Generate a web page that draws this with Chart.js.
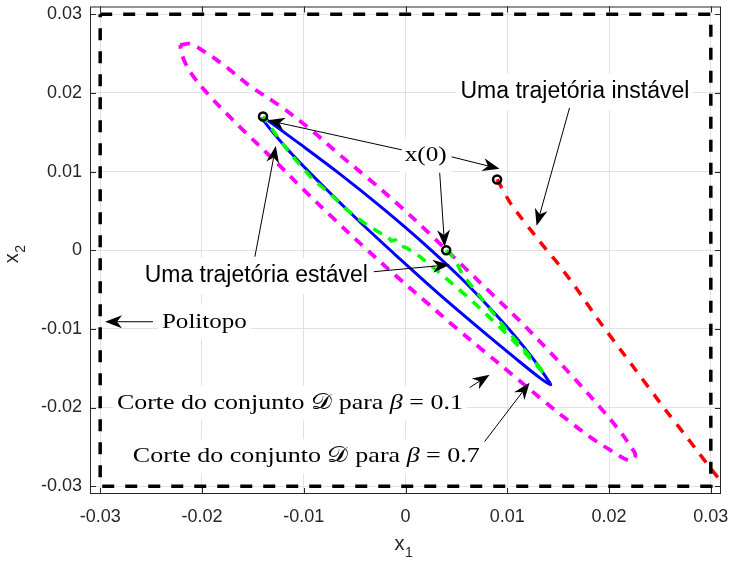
<!DOCTYPE html>
<html>
<head>
<meta charset="utf-8">
<script src="https://cdn.jsdelivr.net/npm/chart.js@4.4.1/dist/chart.umd.min.js"></script>
<style>
  html, body { margin: 0; padding: 0; background: #fff; }
</style>
</head>
<body>
<canvas id="chart" width="730" height="563"></canvas>
<script>
// axis range and ticks
const axisMin = -0.031;
const axisMax = 0.031;
const tickStep = 0.01;

// polytope (box)
const polyX = [-0.03, 0.03, 0.03, -0.03, -0.03];
const polyY = [0.03, 0.03, -0.03, -0.03, 0.03];

// cut of set D for beta = 0.1 (magenta)
const beta01X = [-0.02216, -0.02118, -0.01971, -0.01775, -0.01529, -0.01235, -0.00940, -0.00646, -0.00351, -0.00057,
                 0.00237, 0.00532, 0.00826, 0.01121, 0.01415, 0.01660, 0.01906, 0.02102, 0.02220, 0.02259,
                 0.02200, 0.02004, 0.01808, 0.01612, 0.01366, 0.01072, 0.00777, 0.00483, 0.00188, -0.00106,
                 -0.00400, -0.00695, -0.00990, -0.01284, -0.01578, -0.01775, -0.01951, -0.02088, -0.02177, -0.02216];
const beta01Y = [0.02611, 0.02624, 0.02522, 0.02344, 0.02090, 0.01836, 0.01544, 0.01213, 0.00896, 0.00565,
                 0.00210, -0.00159, -0.00527, -0.00896, -0.01290, -0.01633, -0.01989, -0.02294, -0.02510, -0.02611,
                 -0.02675, -0.02535, -0.02370, -0.02179, -0.01925, -0.01607, -0.01290, -0.00972, -0.00642, -0.00311,
                 0.00032, 0.00388, 0.00756, 0.01137, 0.01506, 0.01760, 0.02001, 0.02217, 0.02421, 0.02611];

// cut of set D for beta = 0.7 (blue)
const beta07X = [-0.01401, -0.01038, -0.00646, -0.00253, 0.00139, 0.00532, 0.00826, 0.01072, 0.01268, 0.01396,
                 0.01425, 0.01317, 0.01072, 0.00728, 0.00336, -0.00057, -0.00450, -0.00842, -0.01137, -0.01401,
                 -0.01401];
const beta07Y = [0.01696, 0.01353, 0.00972, 0.00565, 0.00133, -0.00337, -0.00731, -0.01086, -0.01404, -0.01645,
                 -0.01709, -0.01620, -0.01366, -0.00997, -0.00565, -0.00108, 0.00362, 0.00858, 0.01252, 0.01658,
                 0.01696];

// stable trajectory (green)
const stableX = [0.0040, 0.0048, 0.0056, 0.0071, 0.0085, 0.0099, 0.0115, 0.0131, 0.0137, 0.0112,
                 0.0095, 0.0083, 0.0066, 0.0049, 0.0034, 0.0014, 0.0001, -0.0006, -0.0010, -0.0014,
                 -0.0019, -0.0025, -0.0042, -0.0058, -0.0074, -0.0091, -0.0114, -0.0130, -0.0140];
const stableY = [0.0000, -0.0010, -0.0031, -0.0055, -0.0078, -0.0101, -0.0124, -0.0148, -0.0158, -0.0123,
                 -0.0101, -0.0086, -0.0065, -0.0046, -0.0029, -0.0008, 0.0003, 0.0006, 0.0013, 0.0012,
                 0.0020, 0.0022, 0.0036, 0.0052, 0.0072, 0.0090, 0.0124, 0.0152, 0.0170];

// unstable trajectory (red)
const unstableX = [0.0090, 0.0104, 0.0132, 0.0151, 0.0171, 0.0188, 0.0215, 0.0256, 0.0273, 0.0286, 0.0299, 0.0310, 0.0323];
const unstableY = [0.0090, 0.0058, 0.0011, -0.0019, -0.0054, -0.0086, -0.0133, -0.0204, -0.0232, -0.0254, -0.0276, -0.0294, -0.0314];

// initial conditions x(0)
const x0X = [-0.014, 0.004, 0.009];
const x0Y = [0.017, 0.000, 0.009];

const SANS = '"Liberation Sans", Arial, sans-serif';
const SERIF = '"Liberation Serif", "Times New Roman", serif';

// annotations, placed in data units
const notes = [
  { parts: [['Uma trajetória instável', 'sans']], x: 0.01665, y: 0.02014, w: 229, size: 23 },
  { parts: [['x(0)', 'serif']], x: 0.00198, y: 0.01213, w: 42, size: 22 },
  { parts: [['Uma trajetória estável', 'sans']], x: -0.01466, y: -0.00324, w: 223, size: 23 },
  { parts: [['Politopo', 'serif']], x: -0.01976, y: -0.00909, w: 85, size: 22 },
  { parts: [['Corte do conjunto ', 'serif'], ['𝒟', 'cal'], [' para ', 'serif'], ['β', 'ital'], [' = 0.1', 'serif']],
    x: -0.01136, y: -0.01942, w: 346, size: 22 },
  { parts: [['Corte do conjunto ', 'serif'], ['𝒟', 'cal'], [' para ', 'serif'], ['β', 'ital'], [' = 0.7', 'serif']],
    x: -0.00974, y: -0.02620, w: 347, size: 22 }
];

const arrowFromX = [0.01612, -0.00037, 0.00336, 0.00453, -0.01480, -0.00312, -0.02481, 0.00630, 0.00777];
const arrowFromY = [0.01811, 0.01277, 0.00985, 0.01188, -0.00083, -0.00273, -0.00909, -0.01747, -0.02433];
const arrowToX = [0.01288, -0.01353, 0.00385, 0.00924, -0.01274, 0.00434, -0.02952, 0.00826, 0.01219];
const arrowToY = [0.00311, 0.01652, 0.00044, 0.01036, 0.01327, -0.00184, -0.00909, -0.01582, -0.01684];

const pts = (xs, ys) => xs.map((x, i) => ({ x: x, y: ys[i] }));

const fontOf = (kind, size) => {
  if (kind === 'sans') return size + 'px ' + SANS;
  if (kind === 'ital') return 'italic ' + size + 'px ' + SERIF;
  if (kind === 'cal') return size + 'px "DejaVu Sans", ' + SERIF;
  return size + 'px ' + SERIF;
};

const tickFmt = (v) => {
  const r = Math.round(v * 100) / 100;
  return r === 0 ? '0' : String(r);
};

function drawArrow(ctx, x1, y1, x2, y2) {
  const dx = x2 - x1, dy = y2 - y1;
  const len = Math.hypot(dx, dy);
  const ux = dx / len, uy = dy / len;
  const nx = -uy, ny = ux;
  const L = 17, W = 6.5, notch = 0.7 * L;
  ctx.strokeStyle = '#000';
  ctx.lineWidth = 1;
  ctx.beginPath();
  ctx.moveTo(x1, y1);
  ctx.lineTo(x2 - ux * notch, y2 - uy * notch);
  ctx.stroke();
  ctx.fillStyle = '#000';
  ctx.beginPath();
  ctx.moveTo(x2, y2);
  ctx.lineTo(x2 - ux * L + nx * W, y2 - uy * L + ny * W);
  ctx.lineTo(x2 - ux * notch, y2 - uy * notch);
  ctx.lineTo(x2 - ux * L - nx * W, y2 - uy * L - ny * W);
  ctx.closePath();
  ctx.fill();
}

function drawNote(ctx, note, xs, ys) {
  const cx = xs.getPixelForValue(note.x);
  const cy = ys.getPixelForValue(note.y);
  let total = 0;
  const widths = note.parts.map(p => {
    ctx.font = fontOf(p[1], note.size);
    const w = ctx.measureText(p[0]).width;
    total += w;
    return w;
  });
  const sx = note.w / total;
  const h = note.size * 1.3;
  ctx.fillStyle = '#fff';
  ctx.fillRect(cx - note.w / 2 - 4, cy - h / 2 - 3, note.w + 8, h + 6);
  ctx.save();
  ctx.translate(cx - note.w / 2, cy);
  ctx.scale(sx, 1);
  ctx.fillStyle = '#000';
  ctx.textBaseline = 'middle';
  ctx.textAlign = 'left';
  let x = 0;
  note.parts.forEach((p, i) => {
    ctx.font = fontOf(p[1], note.size);
    ctx.fillText(p[0], x, 0);
    x += widths[i];
  });
  ctx.restore();
}

// box, inner tick marks, annotations and axis titles
const overlay = {
  id: 'overlay',
  afterDatasetsDraw(chart) {
    const ctx = chart.ctx;
    const a = chart.chartArea;
    const xs = chart.scales.x, ys = chart.scales.y;
    ctx.save();
    ctx.strokeStyle = '#262626';
    ctx.lineWidth = 1;
    ctx.strokeRect(a.left + 0.5, a.top + 0.5, a.right - a.left - 1, a.bottom - a.top - 1);
    ctx.beginPath();
    xs.ticks.forEach(t => {
      const px = Math.round(xs.getPixelForValue(t.value)) + 0.5;
      ctx.moveTo(px, a.bottom); ctx.lineTo(px, a.bottom - 6);
      ctx.moveTo(px, a.top); ctx.lineTo(px, a.top + 6);
    });
    ys.ticks.forEach(t => {
      const py = Math.round(ys.getPixelForValue(t.value)) + 0.5;
      ctx.moveTo(a.left, py); ctx.lineTo(a.left + 6, py);
      ctx.moveTo(a.right, py); ctx.lineTo(a.right - 6, py);
    });
    ctx.stroke();

    notes.forEach(n => drawNote(ctx, n, xs, ys));
    arrowFromX.forEach((fx, i) => {
      drawArrow(ctx,
        xs.getPixelForValue(fx), ys.getPixelForValue(arrowFromY[i]),
        xs.getPixelForValue(arrowToX[i]), ys.getPixelForValue(arrowToY[i]));
    });

    // axis titles x_1 and x_2
    ctx.fillStyle = '#262626';
    ctx.textBaseline = 'alphabetic';
    ctx.textAlign = 'left';
    const cxm = (a.left + a.right) / 2 - 2;
    ctx.font = '20px ' + SANS;
    const wx = ctx.measureText('x').width;
    ctx.fillText('x', cxm - 9, 550);
    ctx.font = '14px ' + SANS;
    ctx.fillText('1', cxm - 9 + wx + 0.5, 557);

    ctx.translate(18, (a.top + a.bottom) / 2 + 4);
    ctx.rotate(-Math.PI / 2);
    ctx.font = '20px ' + SANS;
    ctx.fillText('x', -9, 0);
    ctx.font = '14px ' + SANS;
    ctx.fillText('2', -9 + wx + 0.5, 7);
    ctx.restore();
  }
};

const line = (data, color, width, dash, order, tension) => ({
  data: data,
  showLine: true,
  borderColor: color,
  backgroundColor: color,
  borderWidth: width,
  borderDash: dash,
  pointRadius: 0,
  tension: tension,
  fill: false,
  order: order
});

new Chart(document.getElementById('chart'), {
  type: 'scatter',
  data: {
    datasets: [
      {
        data: pts(x0X, x0Y),
        showLine: false,
        pointRadius: 4,
        pointBorderWidth: 2.5,
        pointBorderColor: '#000',
        pointBackgroundColor: 'rgba(0,0,0,0)',
        order: 0
      },
      line(pts(polyX, polyY), '#000000', 3.5, [12, 11], 1, 0),
      line(pts(stableX, stableY), '#00ff00', 3.5, [10, 8], 2, 0),
      line(pts(beta07X, beta07Y), '#0000ff', 3, [], 3, 0.35),
      line(pts(unstableX, unstableY), '#ff0000', 3.5, [10, 9], 4, 0.2),
      line(pts(beta01X, beta01Y), '#ff00ff', 3.8, [10, 8], 5, 0.35)
    ]
  },
  options: {
    responsive: false,
    animation: false,
    layout: { padding: { top: 6, right: 9, left: 0, bottom: 0 } },
    plugins: { legend: { display: false }, tooltip: { enabled: false } },
    scales: {
      x: {
        type: 'linear',
        min: axisMin,
        max: axisMax,
        afterFit(s) { s.height = 69; s.paddingLeft = 0; s.paddingRight = 0; },
        border: { display: false },
        grid: { color: '#e2e2e2', drawTicks: false },
        ticks: {
          stepSize: tickStep,
          includeBounds: false,
          maxRotation: 0,
          padding: 12,
          color: '#262626',
          font: { family: SANS, size: 18 },
          callback: tickFmt
        }
      },
      y: {
        type: 'linear',
        min: axisMin,
        max: axisMax,
        afterFit(s) { s.width = 90; s.paddingTop = 0; s.paddingBottom = 0; },
        border: { display: false },
        grid: { color: '#e2e2e2', drawTicks: false },
        ticks: {
          stepSize: tickStep,
          includeBounds: false,
          padding: 8,
          color: '#262626',
          font: { family: SANS, size: 18 },
          callback: tickFmt
        }
      }
    }
  },
  plugins: [overlay]
});
</script>
</body>
</html>
